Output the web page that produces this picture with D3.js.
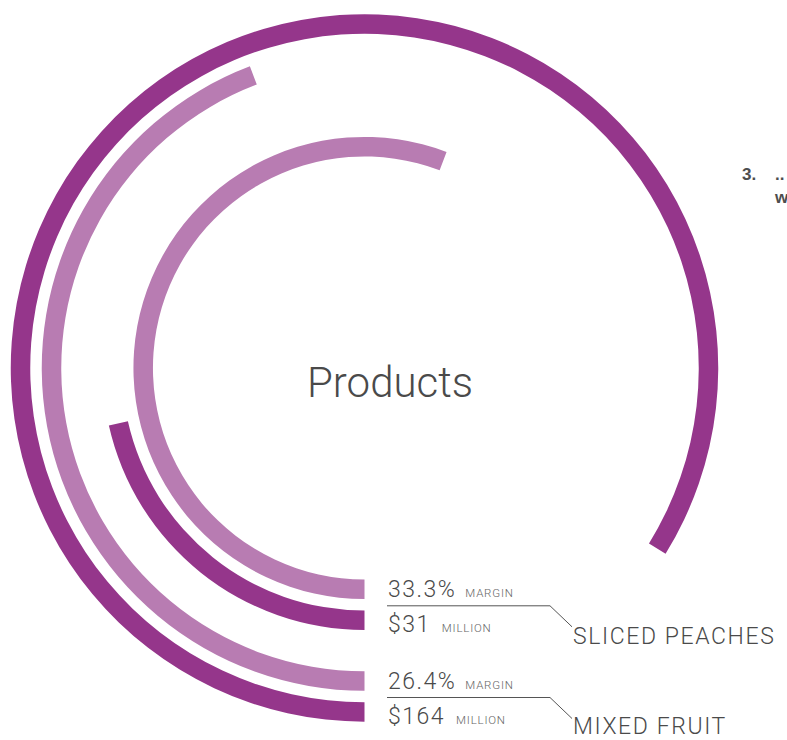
<!DOCTYPE html>
<html>
<head>
<meta charset="utf-8">
<script src="https://cdn.jsdelivr.net/npm/d3@7"></script>
<style>
  html, body { margin: 0; padding: 0; background: #fff; overflow: hidden; }
  svg { display: block; }
  .light { font-family: Roboto, "Helvetica Neue", Arial, sans-serif; font-weight: 300; }
</style>
</head>
<body>
<svg id="chart" width="787" height="740"></svg>
<script>
// ---- data ----
const products = ["MIXED FRUIT", "SLICED PEACHES"];
const revenue = [164, 31];          // $ million
const margin = [26.4, 33.3];        // % margin
const centerTitle = "Products";
const sideNote = ["3.", "..", "w"];

// ---- setup ----
const W = 787, H = 740;
const cx = 364.5, cy = 368;
const dark = "#95368b", light = "#b87cb2";
const textColor = "#4a4a4a";
const thick = 19.5;

const svg = d3.select("#chart");
const g = svg.append("g").attr("transform", `translate(${cx},${cy})`);

const rad = d => d * Math.PI / 180;
const revScale = d3.scaleLinear().domain([0, 200]).range([25, 362.4]);   // degrees of sweep
const marScale = d3.scaleLinear().domain([0, 59.7]).range([0, 360]);     // degrees of sweep
const ringScale = d3.scaleLinear().domain([0, 1]).range([344, 252.3]);  // revenue ring radius per product
const pairGap = 31;

const arc = d3.arc();

const rings = [];
products.forEach((p, i) => {
  const rRev = ringScale(i);
  const rMar = rRev - pairGap;
  rings.push({ r: rRev, sweep: revScale(revenue[i]), color: dark });
  rings.push({ r: rMar, sweep: marScale(margin[i]), color: light });
});

g.selectAll("path.ring").data(rings).join("path")
  .attr("class", "ring")
  .attr("fill", d => d.color)
  .attr("d", d => arc({
    innerRadius: d.r - thick / 2,
    outerRadius: d.r + thick / 2,
    startAngle: Math.PI,
    endAngle: Math.PI + rad(d.sweep)
  }));

// center title
svg.append("text").attr("class", "light")
  .attr("x", 390).attr("y", 397)
  .attr("text-anchor", "middle")
  .attr("font-size", 42)
  .attr("fill", textColor)
  .text(centerTitle);

// labels
const lx = 388;
products.forEach((p, i) => {
  const rRev = ringScale(i);
  const rMar = rRev - pairGap;
  const yMar = cy + rMar + 7.5;
  const yRev = cy + rRev + 11.5;
  const yLine = cy + (rRev + rMar) / 2 + 1;

  const t1 = svg.append("text").attr("class", "light")
    .attr("x", lx).attr("y", yMar).attr("fill", textColor).attr("font-size", 23);
  t1.append("tspan").attr("letter-spacing", 1.5).text(margin[i].toFixed(1) + "%");
  t1.append("tspan").attr("font-size", 11.5).attr("letter-spacing", 0.8)
    .attr("dx", 9).attr("fill", "#666").text("MARGIN");

  const t2 = svg.append("text").attr("class", "light")
    .attr("x", lx).attr("y", Math.min(yRev, H - 6)).attr("fill", textColor).attr("font-size", 23);
  t2.append("tspan").attr("letter-spacing", 1.5).text("$" + revenue[i]);
  t2.append("tspan").attr("font-size", 11.5).attr("letter-spacing", 0.8)
    .attr("dx", 11).attr("fill", "#666").text("MILLION");

  svg.append("path")
    .attr("d", d3.line()([[lx - 1, yLine], [550, yLine], [572, yLine + 21]]))
    .attr("fill", "none").attr("stroke", "#555").attr("stroke-width", 1);

  svg.append("text").attr("class", "light")
    .attr("x", 573).attr("y", Math.min(yLine + 38.5, H - 6))
    .attr("fill", textColor).attr("font-size", 23)
    .attr("letter-spacing", 1.6)
    .text(p);
});

// clipped side note
const note = svg.append("g")
  .attr("font-family", "'Liberation Sans', Arial, sans-serif")
  .attr("font-weight", "bold").attr("font-size", 17).attr("fill", "#4d4d4d");
note.append("text").attr("x", 742).attr("y", 180).text(sideNote[0]);
note.append("text").attr("x", 775).attr("y", 180).text(sideNote[1]);
note.append("text").attr("x", 775).attr("y", 203).text(sideNote[2]);
</script>
</body>
</html>
